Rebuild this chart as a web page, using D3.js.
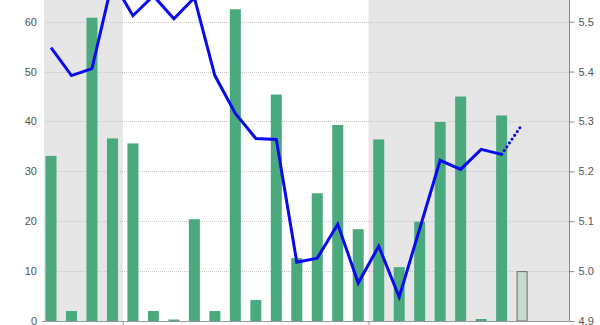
<!DOCTYPE html>
<html>
<head>
<meta charset="utf-8">
<script src="https://cdn.jsdelivr.net/npm/d3@7/dist/d3.min.js"></script>
<style>
  html, body { margin: 0; padding: 0; background: #fff; }
  svg { display: block; }
  text { font-family: "Liberation Sans", Arial, sans-serif; font-size: 11px; fill: #555; }
</style>
</head>
<body>
<svg id="chart" width="600" height="325"></svg>
<script>
// ---- data ----
const months = ["Sep","Oct","Nov","Dec","Jan","Feb","Mar","Apr","May","Jun","Jul","Aug",
                "Sep","Oct","Nov","Dec","Jan","Feb","Mar","Apr","May","Jun","Jul","Aug"];
const years  = [1,1,1,1,2,2,2,2,2,2,2,2,2,2,2,2,3,3,3,3,3,3,3,3];
const barValues = [33.1, 2.0, 60.8, 36.6, 35.6, 2.0, 0.3, 20.4, 2.0, 62.5, 4.2, 45.4,
                   12.6, 25.6, 39.3, 18.4, 36.4, 10.8, 19.9, 39.9, 45.0, 0.4, 41.2];
const forecastBar = 10.0;
const lineValues = [5.448, 5.392, 5.406, 5.582, 5.512, 5.552, 5.506, 5.548, 5.392, 5.316,
                    5.266, 5.264, 5.018, 5.026, 5.094, 4.976, 5.050, 4.948, 5.085, 5.222,
                    5.204, 5.244, 5.234];
const forecastLine = 5.294;
const leftTicks = [0, 10, 20, 30, 40, 50, 60];
const rightTicks = [4.9, 5.0, 5.1, 5.2, 5.3, 5.4, 5.5];

// ---- layout ----
const W = 600, H = 325;
const plotL = 44, plotR = 569, plotT = 0, plotB = 321;
const svg = d3.select("#chart");

const x = d3.scaleLinear().domain([-0.342, 25.29]).range([plotL, plotR]);
const yL = d3.scaleLinear().domain([0, 60]).range([plotB, 21.7]);
const yR = d3.scaleLinear().domain([4.9, 5.5]).range([plotB, 21.7]);

svg.append("defs").append("clipPath").attr("id", "clip")
  .append("rect").attr("x", plotL).attr("y", plotT).attr("width", plotR - plotL).attr("height", plotB - plotT);

// year bands (alternate shading)
const yearGroups = d3.groups(d3.range(months.length), i => years[i]);
const bandG = svg.append("g").attr("clip-path", "url(#clip)");
yearGroups.forEach(([yr, idx], gi) => {
  if (gi % 2 === 1) return;
  const first = d3.min(idx), last = d3.max(idx);
  const x0 = gi === 0 ? x.range()[0] : x(first - 0.5);
  const x1 = gi === yearGroups.length - 1 ? x.range()[1] : x(last + 0.5);
  bandG.append("rect").attr("x", x0).attr("y", plotT).attr("width", x1 - x0).attr("height", plotB - plotT)
    .attr("fill", "#e6e6e6");
});

// gridlines
svg.append("g").selectAll("line").data(leftTicks.slice(1)).join("line")
  .attr("x1", plotL).attr("x2", plotR)
  .attr("y1", d => Math.round(yL(d)) + 0.5).attr("y2", d => Math.round(yL(d)) + 0.5)
  .attr("stroke", "#c8c8c8").attr("stroke-dasharray", "1,1");

// bars
const bw = 11;
svg.append("g").attr("clip-path", "url(#clip)").selectAll("rect").data(barValues).join("rect")
  .attr("x", (d, i) => x(i) - bw / 2).attr("width", bw)
  .attr("y", d => yL(d)).attr("height", d => plotB - yL(d))
  .attr("fill", "#4aaa7e");

// forecast bar
svg.append("rect")
  .attr("x", x(barValues.length) - bw / 2 + 0.5).attr("width", bw - 1)
  .attr("y", yL(forecastBar) + 0.5).attr("height", plotB - yL(forecastBar) - 0.5)
  .attr("fill", "#c2dccf").attr("stroke", "#6a6a6a").attr("stroke-width", 1);

// line
const line = d3.line().x(d => x(d[0])).y(d => yR(d[1]));
const lg = svg.append("g").attr("clip-path", "url(#clip)");
lg.append("path").datum(lineValues.map((v, i) => [i, v]))
  .attr("d", line).attr("fill", "none").attr("stroke", "#0a0aef").attr("stroke-width", 3)
  .attr("stroke-linejoin", "miter");
const n = lineValues.length - 1;
lg.append("path").datum([[n, lineValues[n]], [n + 1, forecastLine]])
  .attr("d", line).attr("fill", "none").attr("stroke", "#0a0aef").attr("stroke-width", 3)
  .attr("stroke-linecap", "round").attr("stroke-dasharray", "0.1,4.5");

// bottom axis
const xAxis = d3.axisBottom(x)
  .tickValues(yearGroups.slice(1).map(([yr, idx]) => d3.min(idx) - 0.5))
  .tickSize(4).tickFormat("");
const xg = svg.append("g").attr("transform", `translate(0,${plotB})`).call(xAxis);
xg.select(".domain").attr("d", `M${plotL - 2},0.5H${plotR}`).attr("stroke", "#999");
xg.selectAll(".tick line").attr("stroke", "#999");

// left axis labels
const leftAxis = d3.axisLeft(yL).tickValues(leftTicks).tickSize(0).tickPadding(7);
const lgx = svg.append("g").attr("transform", `translate(${plotL - 0},0)`).call(leftAxis);
lgx.select(".domain").remove();
lgx.selectAll("text").style("font-size", "11px").attr("fill", "#555")
  .style("font-family", "'Liberation Sans', Arial, sans-serif");

// right axis
const rightAxis = d3.axisRight(yR).tickValues(rightTicks).tickSize(5).tickPadding(4).tickFormat(d3.format(".1f"));
const rg = svg.append("g").attr("transform", `translate(${plotR + 0.5},0)`).call(rightAxis);
rg.select(".domain").attr("d", `M0,${plotT}V${plotB + 0.5}`).attr("stroke", "#888");
rg.selectAll(".tick line").attr("stroke", "#888");
rg.selectAll("text").style("font-size", "11px").attr("fill", "#555")
  .style("font-family", "'Liberation Sans', Arial, sans-serif");
</script>
</body>
</html>
